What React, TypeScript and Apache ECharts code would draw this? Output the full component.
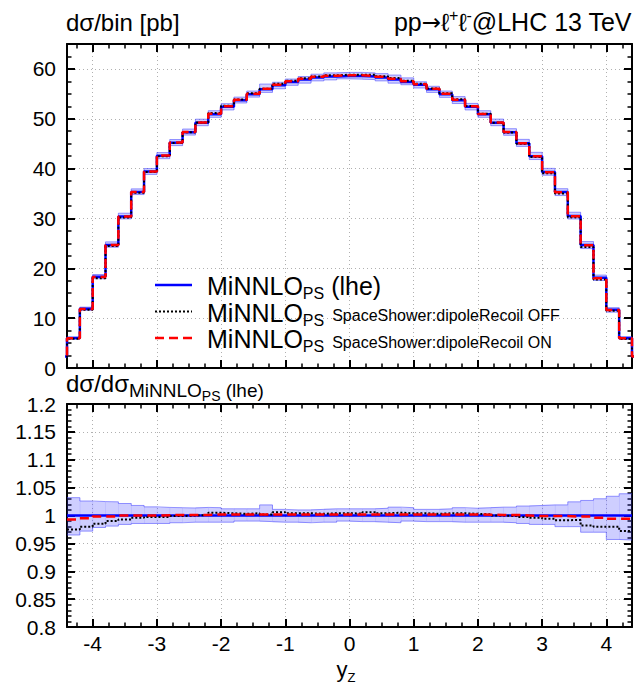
import React, { useEffect, useRef } from 'react';
import * as echarts from 'echarts';

// ---------- data ----------
const binEdges = [-4.4, -4.2, -4.0, -3.8, -3.6, -3.4, -3.2, -3.0, -2.8, -2.6, -2.4, -2.2, -2.0, -1.8, -1.6, -1.4, -1.2, -1.0, -0.8, -0.6, -0.4, -0.2, 0,
  0.2, 0.4, 0.6, 0.8, 1.0, 1.2, 1.4, 1.6, 1.8, 2.0, 2.2, 2.4, 2.6, 2.8, 3.0, 3.2, 3.4, 3.6, 3.8, 4.0, 4.2, 4.4];
const outsideEdgeLeft = -4.6;
const outsideEdgeRight = 4.6;
const outsideValue = 2.3;

// dσ/bin [pb], MiNNLO_PS (lhe)
const xsecLHE = [6.0, 11.9, 18.3, 24.7, 30.4, 35.3, 39.4, 42.6, 45.2, 47.3, 49.2, 50.9, 52.4, 53.7, 54.9, 55.9, 56.7, 57.4, 57.9, 58.3, 58.5, 58.6,
  58.6, 58.5, 58.3, 57.9, 57.4, 56.8, 55.9, 54.9, 53.7, 52.4, 50.9, 49.2, 47.3, 45.1, 42.5, 39.3, 35.3, 30.5, 24.7, 18.1, 11.7, 6.0];
// ratios to MiNNLO_PS (lhe)
const ratioOFF = [0.975, 0.980, 0.985, 0.990, 0.993, 0.996, 0.9975, 0.9975, 0.999, 1.000, 1.001, 1.005, 1.004, 1.003, 1.004, 1.002, 1.006, 1.004, 1.004, 1.003, 1.004, 1.004,
  1.0036, 1.006, 1.004, 1.005, 1.004, 1.004, 1.003, 1.004, 1.004, 1.003, 1.002, 1.000, 0.999, 0.9975, 0.996, 0.994, 0.9916, 0.992, 0.982, 0.980, 0.980, 0.972];
const ratioON = [0.993, 0.995, 0.998, 0.9985, 1.000, 1.000, 1.000, 1.0005, 1.001, 1.001, 1.001, 1.002, 1.002, 1.002, 1.002, 1.002, 1.002, 1.002, 1.002, 1.002, 1.002, 1.002,
  1.002, 1.002, 1.002, 1.002, 1.002, 1.002, 1.002, 1.002, 1.002, 1.002, 1.0015, 1.001, 1.001, 1.000, 0.999, 0.999, 0.999, 0.998, 0.998, 0.996, 0.994, 0.994];
const bandUp = [1.032, 1.026, 1.025, 1.0245, 1.0215, 1.018, 1.0155, 1.0145, 1.014, 1.0135, 1.0145, 1.014, 1.012, 1.012, 1.012, 1.019, 1.011, 1.010, 1.010, 1.011, 1.012, 1.012,
  1.012, 1.012, 1.013, 1.015, 1.014, 1.011, 1.011, 1.012, 1.014, 1.013, 1.014, 1.015, 1.015, 1.017, 1.018, 1.019, 1.019, 1.0245, 1.027, 1.030, 1.0345, 1.039];
const bandDown = [0.965, 0.972, 0.9785, 0.981, 0.984, 0.9857, 0.9857, 0.9857, 0.987, 0.988, 0.988, 0.988, 0.988, 0.990, 0.990, 0.989, 0.988, 0.988, 0.987, 0.988, 0.988, 0.990,
  0.989, 0.989, 0.988, 0.987, 0.990, 0.989, 0.989, 0.989, 0.988, 0.988, 0.988, 0.988, 0.987, 0.9857, 0.984, 0.984, 0.980, 0.980, 0.970, 0.970, 0.957, 0.956];
const ratioReference = [[-4.4, 1], [4.4, 1]];

// ---------- styles ----------
const FONT_FAMILY = '"Liberation Sans", Arial, Helvetica, sans-serif';
const ARROW_FAMILY = '"DejaVu Sans", sans-serif';
const BLUE = '#0000ff';
const RED = '#ff0000';
const BAND_FILL = 'rgba(60,60,255,0.25)';
const BAND_EDGE = 'rgba(70,70,255,0.55)';
const GRID_LINE = { color: '#b0b0b0', width: 1, type: [1, 3] as number[] };

type Piece = { t: string; s: number; dy?: number; gap?: number; f?: string };

export default function App() {
  const ref = useRef<HTMLDivElement>(null);

  useEffect(() => {
    const el = ref.current!;
    const chart = echarts.init(el, null, { renderer: 'svg', width: 644, height: 687 });

    const ctx = document.createElement('canvas').getContext('2d')!;
    const measure = (t: string, s: number, f: string) => {
      ctx.font = `${s}px ${f}`;
      return ctx.measureText(t).width;
    };
    const textRun = (pieces: Piece[], x: number, baseline: number, anchor: 'left' | 'right' | 'center' = 'left') => {
      const widths = pieces.map((p) => measure(p.t, p.s, p.f || FONT_FAMILY) + (p.gap || 0));
      const total = widths.reduce((a, b) => a + b, 0);
      let cx = anchor === 'left' ? x : anchor === 'right' ? x - total : x - total / 2;
      return pieces.map((p, i) => {
        cx += p.gap || 0;
        const e = {
          type: 'text', x: cx, y: baseline + (p.dy || 0) - 0.3465 * p.s, silent: true, z: 100,
          style: { text: p.t, font: `${p.s}px ${p.f || FONT_FAMILY}`, fill: '#000', align: 'left', verticalAlign: 'middle', textAlign: 'left', textVerticalAlign: 'middle' },
        };
        cx += widths[i] - (p.gap || 0);
        return e;
      });
    };

    const stepData = (vals: number[], withOutside: boolean) => {
      const pts: number[][] = [];
      if (withOutside) pts.push([outsideEdgeLeft, outsideValue]);
      vals.forEach((v, i) => pts.push([binEdges[i], v]));
      pts.push([binEdges[vals.length], vals[vals.length - 1]]);
      if (withOutside) {
        pts.push([binEdges[vals.length], outsideValue]);
        pts.push([outsideEdgeRight, outsideValue]);
      }
      return pts;
    };

    const tick = { show: true, inside: true, length: 8, lineStyle: { color: '#000', width: 2 } };
    const minor = (n: number) => ({ show: true, splitNumber: n, length: 4.5, lineStyle: { color: '#000', width: 1.5 } });
    const axisLine = { show: true, onZero: false, lineStyle: { color: '#000', width: 2 } };
    const labelFont = { fontSize: 21, fontFamily: FONT_FAMILY, color: '#000' };

    const xAxis = (gridIndex: number, position: string, labels: boolean) => ({
      type: 'value', gridIndex, position, min: -4.4, max: 4.4, splitNumber: 9,
      axisLine, axisTick: tick, minorTick: minor(4),
      axisLabel: labels
        ? { show: true, ...labelFont, margin: 6, formatter: (v: number) => (Math.abs(v - Math.round(v)) < 1e-6 ? String(Math.round(v)) : '') }
        : { show: false },
      splitLine: position === 'bottom' ? { show: true, lineStyle: GRID_LINE } : { show: false },
    });
    const yAxis = (gridIndex: number, position: string, labels: boolean, min: number, max: number, interval: number, minorN: number, fmt: (v: number) => string) => ({
      type: 'value', gridIndex, position, min, max, interval,
      axisLine, axisTick: tick, minorTick: minor(minorN),
      axisLabel: labels ? { show: true, ...labelFont, margin: 11, formatter: fmt } : { show: false },
      splitLine: position === 'left' ? { show: true, lineStyle: GRID_LINE } : { show: false },
    });

    const topFmt = (v: number) => (Math.abs(v % 10) < 1e-6 ? String(v) : '');
    const botFmt = (v: number) => String(+v.toFixed(2));

    const bandRect = (xi: number, yi: number, lo: number[], hi: number[]) => ({
      type: 'custom', xAxisIndex: xi, yAxisIndex: yi, clip: true, silent: true, z: 1,
      encode: { x: [0, 1], y: [2, 3] },
      data: lo.map((l, i) => [binEdges[i], binEdges[i + 1], l, hi[i]]),
      renderItem: (_p: any, api: any) => {
        const a = api.coord([api.value(0), api.value(3)]);
        const b = api.coord([api.value(1), api.value(2)]);
        return { type: 'rect', shape: { x: a[0], y: a[1], width: b[0] - a[0] + 0.4, height: b[1] - a[1] }, style: { fill: BAND_FILL } };
      },
    });
    const stepLine = (xi: number, yi: number, data: number[][], color: string, width: number, type: any, z: number) => ({
      type: 'line', xAxisIndex: xi, yAxisIndex: yi, step: 'end', data, showSymbol: false, symbol: 'none',
      clip: true, silent: true, z, animation: false,
      lineStyle: { color, width, type },
    });

    const topLo = xsecLHE.map((v, i) => v * bandDown[i]);
    const topHi = xsecLHE.map((v, i) => v * bandUp[i]);
    const topOFF = xsecLHE.map((v, i) => v * ratioOFF[i]);
    const topON = xsecLHE.map((v, i) => v * ratioON[i]);

    const graphics: any[] = [
      ...textRun([{ t: 'dσ/bin [pb]', s: 24 }], 66, 31),
      ...textRun([
        { t: 'pp', s: 25 }, { t: '→', s: 23, f: ARROW_FAMILY, dy: -1 }, { t: 'ℓ', s: 25 }, { t: '+', s: 16, dy: -10 }, { t: 'ℓ', s: 25 }, { t: '-', s: 16, dy: -10 }, { t: '@LHC 13 TeV', s: 25 },
      ], 632, 31, 'right'),
      ...textRun([{ t: 'dσ/dσ', s: 24 }, { t: 'MiNNLO', s: 19, dy: 5 }, { t: 'PS', s: 14, dy: 9 }, { t: ' (lhe)', s: 19, dy: 5 }], 66, 392),
      ...textRun([{ t: 'MiNNLO', s: 25 }, { t: 'PS', s: 16, dy: 4.5 }, { t: ' (lhe)', s: 25 }], 207, 295),
      ...textRun([{ t: 'MiNNLO', s: 25 }, { t: 'PS', s: 16, dy: 4.5 }, { t: 'SpaceShower:dipoleRecoil OFF', s: 16, gap: 8 }], 207, 321.5),
      ...textRun([{ t: 'MiNNLO', s: 25 }, { t: 'PS', s: 16, dy: 4.5 }, { t: 'SpaceShower:dipoleRecoil ON', s: 16, gap: 8 }], 207, 348),
      ...textRun([{ t: 'y', s: 22 }, { t: 'Z', s: 13, dy: 5 }], 346, 677, 'center'),
      { type: 'line', silent: true, z: 100, shape: { x1: 155, y1: 285, x2: 192, y2: 285 }, style: { stroke: BLUE, lineWidth: 2.5 } },
      { type: 'line', silent: true, z: 100, shape: { x1: 155, y1: 311.5, x2: 192, y2: 311.5 }, style: { stroke: '#000', lineWidth: 2, lineDash: [2, 2] } },
      { type: 'line', silent: true, z: 100, shape: { x1: 155, y1: 338, x2: 192, y2: 338 }, style: { stroke: RED, lineWidth: 2.5, lineDash: [9, 5] } },
    ];

    const option: any = {
      animation: false,
      backgroundColor: '#fff',
      textStyle: { fontFamily: FONT_FAMILY },
      grid: [
        { left: 67, top: 44, width: 565, height: 324, outerBoundsMode: 'none', containLabel: false },
        { left: 67, top: 404, width: 565, height: 223, outerBoundsMode: 'none', containLabel: false },
      ],
      xAxis: [xAxis(0, 'bottom', false), xAxis(0, 'top', false), xAxis(1, 'bottom', true), xAxis(1, 'top', false)],
      yAxis: [
        yAxis(0, 'left', true, 0, 65, 10, 4, topFmt),
        yAxis(0, 'right', false, 0, 65, 10, 4, topFmt),
        yAxis(1, 'left', true, 0.8, 1.2, 0.05, 5, botFmt),
        yAxis(1, 'right', false, 0.8, 1.2, 0.05, 5, botFmt),
      ],
      series: [
        bandRect(0, 0, topLo, topHi),
        stepLine(0, 0, stepData(topHi, false), BAND_EDGE, 1, 'solid', 2),
        stepLine(0, 0, stepData(topLo, false), BAND_EDGE, 1, 'solid', 2),
        stepLine(0, 0, stepData(xsecLHE, true), BLUE, 2.5, 'solid', 3),
        stepLine(0, 0, stepData(topOFF, true), '#000', 2, [2, 2], 4),
        stepLine(0, 0, stepData(topON, true), RED, 2.5, [9, 5], 5),

        bandRect(2, 2, bandDown, bandUp),
        stepLine(2, 2, stepData(bandUp, false), BAND_EDGE, 1, 'solid', 2),
        stepLine(2, 2, stepData(bandDown, false), BAND_EDGE, 1, 'solid', 2),
        { ...stepLine(2, 2, ratioReference, BLUE, 2.5, 'solid', 3), step: false },
        stepLine(2, 2, stepData(ratioOFF, false), '#000', 2, [2, 2], 4),
        stepLine(2, 2, stepData(ratioON, false), RED, 2.5, [9, 5], 5),
      ],
      graphic: { elements: graphics },
    };

    chart.setOption(option);
    return () => chart.dispose();
  }, []);

  return <div ref={ref} style={{ position: 'absolute', left: 0, top: 0, width: 644, height: 687, background: '#fff' }} />;
}
